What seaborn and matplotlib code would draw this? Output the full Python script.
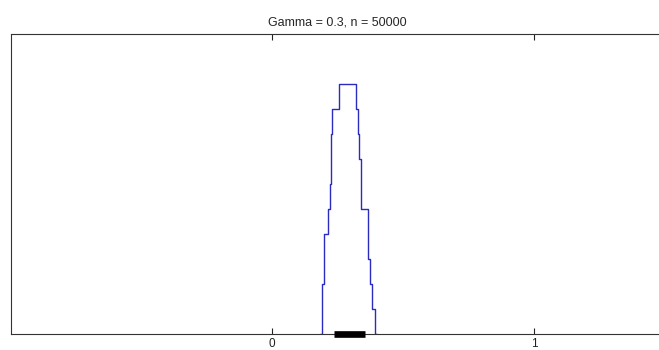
import numpy as np
import pandas as pd
import matplotlib
matplotlib.use("Agg")
import matplotlib.pyplot as plt
import seaborn as sns

# Histogram outline (bin edges and heights)
bin_edges = [0.185, 0.1927, 0.1973, 0.2155, 0.2209, 0.2247, 0.2258, 0.2308, 0.2574,
             0.3210, 0.3286, 0.3313, 0.3412, 0.3679, 0.3743, 0.3831, 0.3934, 0.40]
bin_heights = [0, 2, 4, 5, 6, 7, 8, 9, 10, 9, 8, 7, 5, 3, 2, 1, 0]
interval = [0.238, 0.355]
xticks = [0, 1]
title = "Gamma = 0.3, n = 50000"

sns.set_style("white")
plt.rcParams['font.family'] = ['Liberation Sans', 'DejaVu Sans']

W, H = 659, 350
fig = plt.figure(figsize=(W / 100, H / 100), dpi=100)
zero_px, unit_px = 271.7, 262.6
left_px, right_px = 10.5, 665.0
top_px, bot_px = 34.3, 334.3
ax = fig.add_axes([left_px / W, 1 - bot_px / H, (right_px - left_px) / W, (bot_px - top_px) / H])

centers = [(a + b) / 2 for a, b in zip(bin_edges[:-1], bin_edges[1:])]
df = pd.DataFrame({"x": centers, "w": bin_heights})
sns.histplot(data=df, x="x", weights="w", bins=bin_edges, element="step", fill=False,
             color="#2b2bbf", linewidth=1.0, ax=ax)

bar = pd.DataFrame({"x": interval, "y": [0, 0]})
sns.lineplot(data=bar, x="x", y="y", color="black", linewidth=4.8, ax=ax,
             clip_on=False, solid_capstyle="butt", zorder=5)

ax.set_xlim((left_px - zero_px) / unit_px, (right_px - zero_px) / unit_px)
ax.set_ylim(0, 12.0)
ax.set_xticks(xticks)
ax.set_xticklabels([str(t) for t in xticks], fontsize=8.5)
ax.set_yticks([])
ax.set_xlabel("")
ax.set_ylabel("")
ax.tick_params(axis="x", direction="in", length=4, width=0.8, top=True, bottom=True,
               pad=3, colors="#222222")
for name, s in ax.spines.items():
    s.set_visible(name != "right")
    s.set_color("#333333")
    s.set_linewidth(0.8)
ax.set_title(title, fontsize=9, pad=6)

fig.savefig("out.png", dpi=100)
